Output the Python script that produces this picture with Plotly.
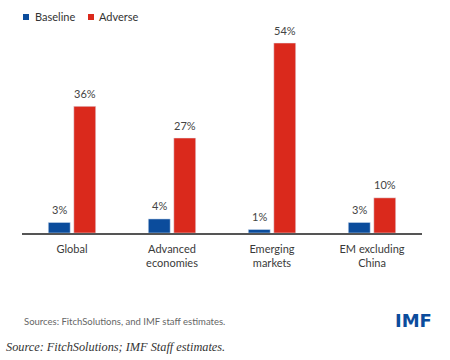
import plotly.graph_objects as go

categories = ["Global", "Advanced<br>economies", "Emerging<br>markets", "EM excluding<br>China"]
baseline = [3, 4, 1, 3]
adverse = [36, 27, 54, 10]
series_names = ["Baseline", "Adverse"]
blue = "#0b4c9c"
red = "#da291c"
font = "Lato, Noto Sans, sans-serif"

# plot area in pixels
L, T, W, H = 22, 30, 400, 203
def px(x):
    return (x - L) / W
def py(y):
    return (T + H - y) / H

fig = go.Figure()
fig.add_bar(x=categories, y=baseline, name=series_names[0], marker_color=blue)
fig.add_bar(x=categories, y=adverse, name=series_names[1], marker_color=red)

# value labels above bars, tied to data coordinates
for vals, shift in ((baseline, -12.75), (adverse, 12.75)):
    for c, v in zip(categories, vals):
        fig.add_annotation(x=c, y=v, xref="x", yref="y", text=f"{v}%", showarrow=False,
                           xshift=shift, yshift=13, yanchor="middle",
                           font=dict(size=11, color="#444444", family=font))

fig.update_layout(
    width=450, height=360, autosize=False,
    margin=dict(l=L, r=450 - L - W, t=T, b=360 - T - H),
    paper_bgcolor="white", plot_bgcolor="white",
    barmode="group", bargap=0.49, bargroupgap=0.14,
    font=dict(family=font, size=11, color="#333333"),
    showlegend=False,
    xaxis=dict(showline=True, linecolor="#555555", linewidth=1.5, ticks="outside",
               tickcolor="white", ticklen=5, tickfont=dict(size=11, color="#3a3a3a"),
               showgrid=False),
    yaxis=dict(range=[0, 57.7], visible=False, showgrid=False),
)

# legend drawn as shapes + text
legend_items = [(23, 33, blue, series_names[0]), (88, 97, red, series_names[1])]
for sx, tx, col, name in legend_items:
    fig.add_shape(type="rect", xref="paper", yref="paper", x0=px(sx), x1=px(sx + 6),
                  y0=py(20), y1=py(14), fillcolor=col, line=dict(width=0))
    fig.add_annotation(xref="paper", yref="paper", x=px(tx), y=py(17), xanchor="left",
                       yanchor="middle", showarrow=False, text=name,
                       font=dict(size=11, color="#333333", family=font))

ann = [
    ("Sources: FitchSolutions, and IMF staff estimates.", 22, 321,
     dict(size=9.5, color="#666666", family=font)),
    ("<b>IMF</b>", 393, 320, dict(size=18, color=blue, family="DejaVu Sans, sans-serif")),
    ("<i>Source: FitchSolutions; IMF Staff estimates.</i>", 4, 347,
     dict(size=12.3, color="#333333", family="Liberation Serif, serif")),
]
for text, x, y, f in ann:
    fig.add_annotation(xref="paper", yref="paper", xanchor="left", yanchor="middle",
                       showarrow=False, x=px(x), y=py(y), text=text, font=f)

fig.write_html("out.html", config={"displayModeBar": False},
               post_script="document.body.style.margin='0';")
